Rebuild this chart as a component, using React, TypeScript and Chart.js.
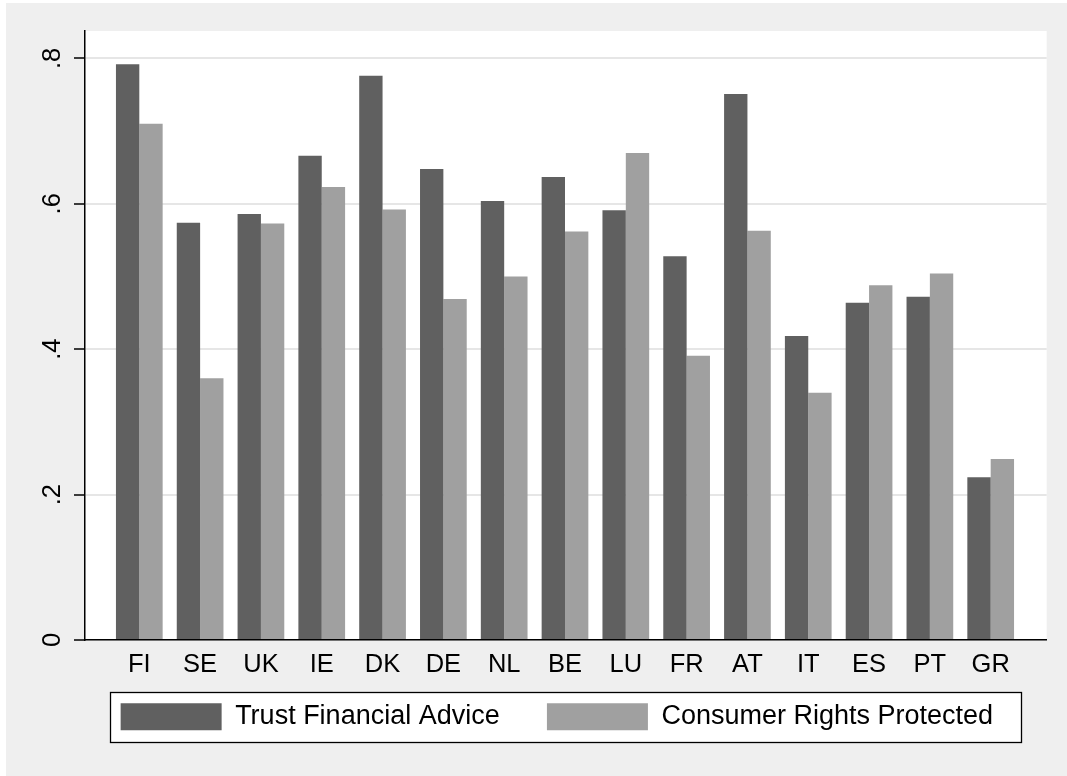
import React, { useEffect, useRef } from "react";
import { Chart, registerables } from "chart.js";

Chart.register(...registerables);

const countries = ["FI", "SE", "UK", "IE", "DK", "DE", "NL", "BE", "LU", "FR", "AT", "IT", "ES", "PT", "GR"];
const trustFinancialAdvice = [0.792, 0.574, 0.586, 0.666, 0.776, 0.648, 0.604, 0.637, 0.591, 0.528, 0.751, 0.418, 0.464, 0.472, 0.224];
const consumerRightsProtected = [0.71, 0.36, 0.573, 0.623, 0.592, 0.469, 0.5, 0.562, 0.67, 0.391, 0.563, 0.34, 0.488, 0.504, 0.249];
const seriesNames = ["Trust Financial Advice", "Consumer Rights Protected"];
const yTickValues = [0, 0.2, 0.4, 0.6, 0.8];
const yTickLabels = ["0", ".2", ".4", ".6", ".8"];

const FONT = "'Liberation Sans', Arial, Helvetica, sans-serif";
const FONT_SIZE = 25.5;
const LEGEND_FONT_SIZE = 27;
const LEGEND_PAD = 47.2;

export default function App() {
  const ref = useRef<HTMLCanvasElement>(null);

  useEffect(() => {
    if (!ref.current) return;

    const legendPlacement = {
      id: "legendPlacement",
      afterLayout(chart: any) {
        const lg = chart.legend;
        if (!lg) return;
        const h = lg.height;
        lg.left = 67;
        lg.right = chart.chartArea.right;
        lg.width = lg.right - lg.left;
        lg.top = chart.chartArea.bottom + 63.3 - LEGEND_PAD;
        lg.bottom = lg.top + h;
      },
    };

    const bgPlugin = {
      id: "stataBackground",
      beforeDraw(chart: any) {
        const { ctx, chartArea, width, height } = chart;
        ctx.save();
        ctx.fillStyle = "#ffffff";
        ctx.fillRect(0, 0, width, height);
        ctx.fillStyle = "#efefef";
        ctx.fillRect(6, 3, width - 6, height - 3);
        ctx.fillStyle = "#ffffff";
        ctx.fillRect(chartArea.left, chartArea.top, chartArea.right - chartArea.left, chartArea.bottom - chartArea.top);
        const hb = chart.legend && chart.legend.legendHitBoxes;
        if (hb && hb.length) {
          const l = Math.min(...hb.map((h: any) => h.left)) - 11;
          const r = Math.max(...hb.map((h: any) => h.left + h.width)) + 28;
          const t = hb[0].top - 11;
          const b = hb[0].top + hb[0].height + 12;
          ctx.fillStyle = "#ffffff";
          ctx.fillRect(l, t, r - l, b - t);
          ctx.strokeStyle = "#000000";
          ctx.lineWidth = 1.3;
          ctx.strokeRect(Math.round(l) + 0.5, Math.round(t) + 0.5, Math.round(r - l), Math.round(b - t));
        }
        ctx.restore();
      },
    };

    const chart = new Chart(ref.current, {
      type: "bar",
      data: {
        datasets: [
          {
            label: seriesNames[0],
            data: trustFinancialAdvice.map((y, i) => ({ x: i, y })),
            backgroundColor: "#606060",
            borderWidth: 0,
            categoryPercentage: 0.768,
            barPercentage: 1,
          },
          {
            label: seriesNames[1],
            data: consumerRightsProtected.map((y, i) => ({ x: i, y })),
            backgroundColor: "#a0a0a0",
            borderWidth: 0,
            categoryPercentage: 0.768,
            barPercentage: 1,
          },
        ],
      },
      options: {
        animation: false,
        responsive: false,
        devicePixelRatio: 1,
        layout: { padding: { left: 20, right: 20.3, top: 31, bottom: 13.8 } },
        plugins: {
          legend: {
            position: "bottom",
            labels: {
              boxWidth: 101,
              boxHeight: 27,
              padding: LEGEND_PAD,
              color: "#000000",
              font: { family: FONT, size: LEGEND_FONT_SIZE },
            },
          },
          tooltip: { enabled: false },
        },
        scales: {
          x: {
            type: "linear",
            min: -0.893,
            max: 14.921,
            offset: false,
            grid: { display: false, drawTicks: false, tickLength: 0, offset: false },
            border: { display: true, color: "#000000", width: 1.5 },
            ticks: {
              autoSkip: false,
              maxRotation: 0,
              minRotation: 0,
              padding: 10,
              color: "#000000",
              font: { family: FONT, size: FONT_SIZE },
              callback: (_v: any, i: number) => countries[i] ?? "",
            },
            afterBuildTicks: (s: any) => {
              s.ticks = countries.map((_, i) => ({ value: i }));
            },
            afterFit: (s: any) => {
              s.height = 38;
            },
          },
          y: {
            min: 0,
            max: 0.8377,
            grid: {
              color: "#e6e6e6",
              lineWidth: 2,
              tickColor: "#000000",
              tickWidth: 1.5,
              tickLength: 11,
              drawTicks: true,
            },
            border: { display: true, color: "#000000", width: 1.5 },
            ticks: {
              minRotation: 90,
              maxRotation: 90,
              crossAlign: "center",
              padding: 10.4,
              color: "#000000",
              font: { family: FONT, size: FONT_SIZE },
              callback: (_v: any, i: number) => yTickLabels[i] ?? "",
            },
            afterBuildTicks: (s: any) => {
              s.ticks = yTickValues.map((value) => ({ value }));
            },
            afterFit: (s: any) => {
              s.width = 65;
            },
          },
        },
      },
      plugins: [legendPlacement, bgPlugin],
    } as any);

    return () => chart.destroy();
  }, []);

  return (
    <div style={{ position: "absolute", left: 0, top: 0, width: 1067, height: 776 }}>
      <canvas ref={ref} width={1067} height={776} style={{ display: "block", width: 1067, height: 776 }} />
    </div>
  );
}
